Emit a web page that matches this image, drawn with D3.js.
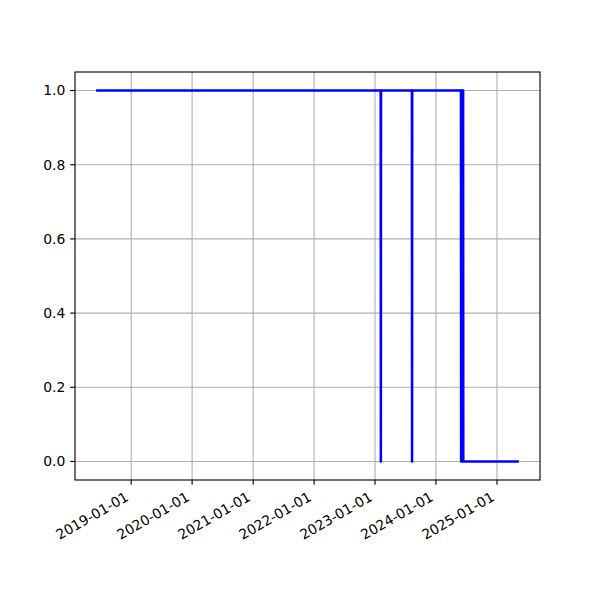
<!DOCTYPE html>
<html>
<head>
<meta charset="utf-8">
<script src="https://cdn.jsdelivr.net/npm/d3@7"></script>
<style>
  html, body { margin: 0; padding: 0; background: #fff; }
  svg { display: block; }
  text { font-family: "DejaVu Sans", sans-serif; fill: #000; }
</style>
</head>
<body>
<svg id="chart" width="600" height="600"></svg>
<script>
// Data: points of the 0/1 series (linearly connected)
const dates = [
  "2018-06-05",
  "2023-02-04", "2023-02-05", "2023-02-06",
  "2023-08-10", "2023-08-11", "2023-08-12",
  "2024-05-30", "2024-05-31", "2024-06-01",
  "2024-06-05", "2024-06-06", "2024-06-07",
  "2024-06-12", "2024-06-13",
  "2025-05-12"
];
const values = [
  1,
  1, 0, 1,
  1, 0, 1,
  1, 0, 1,
  1, 0, 1,
  1, 0,
  0
];
const yTickValues = [0.0, 0.2, 0.4, 0.6, 0.8, 1.0];

(function () {
const parse = d3.utcParse("%Y-%m-%d");
const data = dates.map((d, i) => ({ date: parse(d), value: values[i] }));

const svg = d3.select("#chart");
const mLeft = 75, mRight = 540, mTop = 72, mBottom = 480;
const fontPx = 13.9;
const tickLen = 4.86, pad = 4.86;

// matplotlib-like 5% margins
const [t0, t1] = d3.extent(data, d => d.date);
const span = t1 - t0;
const x = d3.scaleUtc()
  .domain([new Date(+t0 - 0.05 * span), new Date(+t1 + 0.05 * span)])
  .range([mLeft, mRight]);
const vMin = d3.min(values), vMax = d3.max(values);
const vSpan = vMax - vMin;
const y = d3.scaleLinear()
  .domain([vMin - 0.05 * vSpan, vMax + 0.05 * vSpan])
  .range([mBottom, mTop]);

const xTicks = x.ticks(d3.utcYear.every(1));
const fmtDate = d3.utcFormat("%Y-%m-%d");

// grid
const grid = svg.append("g");
grid.selectAll("line.gx").data(xTicks).enter().append("line")
  .attr("x1", d => x(d)).attr("x2", d => x(d))
  .attr("y1", mTop).attr("y2", mBottom)
  .attr("stroke", "#b0b0b0").attr("stroke-width", 1.11);
grid.selectAll("line.gy").data(yTickValues).enter().append("line")
  .attr("x1", mLeft).attr("x2", mRight)
  .attr("y1", d => y(d)).attr("y2", d => y(d))
  .attr("stroke", "#b0b0b0").attr("stroke-width", 1.11);

// line
const line = d3.line().x(d => x(d.date)).y(d => y(d.value));
svg.append("path").datum(data)
  .attr("d", line)
  .attr("fill", "none")
  .attr("stroke", "#0000ff")
  .attr("stroke-width", 2.5)
  .attr("stroke-linejoin", "round")
  .attr("stroke-linecap", "butt");

// spines
svg.append("rect")
  .attr("x", mLeft).attr("y", mTop)
  .attr("width", mRight - mLeft).attr("height", mBottom - mTop)
  .attr("fill", "none").attr("stroke", "#000").attr("stroke-width", 1.11);

// x axis ticks and labels
const xg = svg.append("g");
xg.selectAll("line").data(xTicks).enter().append("line")
  .attr("x1", d => x(d)).attr("x2", d => x(d))
  .attr("y1", mBottom).attr("y2", mBottom + tickLen)
  .attr("stroke", "#000").attr("stroke-width", 1.11);
xg.selectAll("text").data(xTicks).enter().append("text")
  .attr("transform", d => `translate(${x(d) - 1.7},${mBottom + tickLen + pad + 10}) rotate(-30)`)
  .attr("text-anchor", "end")
  .style("font-size", fontPx + "px")
  .text(d => fmtDate(d));

// y axis ticks and labels
const yg = svg.append("g");
yg.selectAll("line").data(yTickValues).enter().append("line")
  .attr("x1", mLeft - tickLen).attr("x2", mLeft)
  .attr("y1", d => y(d)).attr("y2", d => y(d))
  .attr("stroke", "#000").attr("stroke-width", 1.11);
yg.selectAll("text").data(yTickValues).enter().append("text")
  .attr("x", mLeft - tickLen - pad)
  .attr("y", d => y(d))
  .attr("dy", "0.35em")
  .attr("text-anchor", "end")
  .style("font-size", fontPx + "px")
  .text(d => d3.format(".1f")(d));
})();
</script>
</body>
</html>
